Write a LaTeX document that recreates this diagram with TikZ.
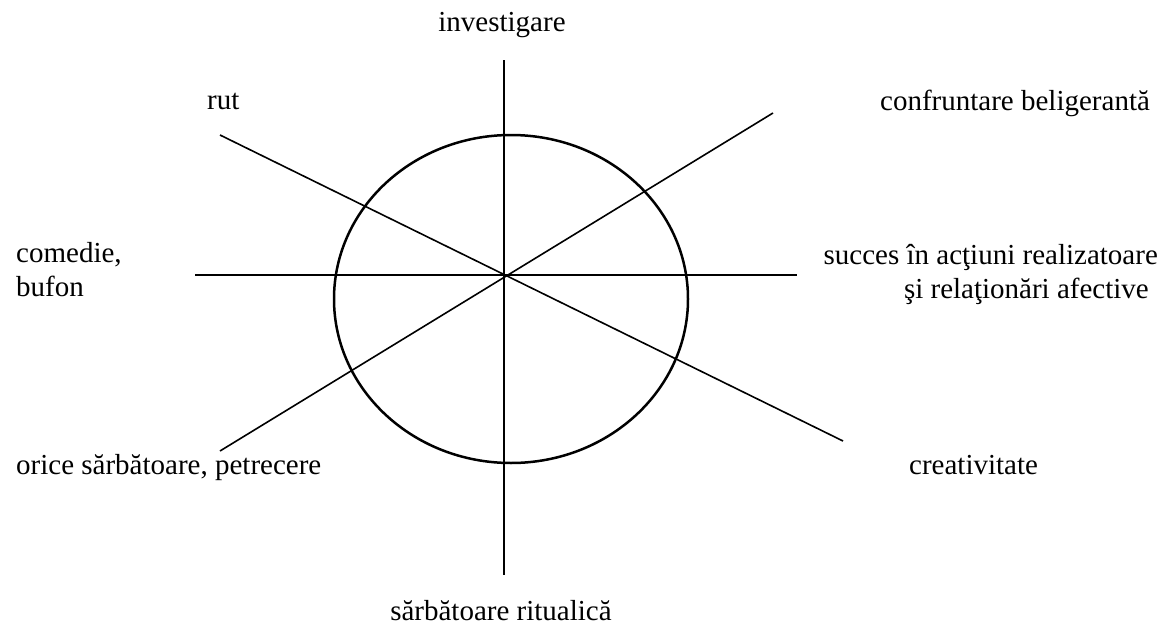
\documentclass[tikz,border=0pt]{standalone}
\usepackage{fontspec}
\setmainfont{Liberation Serif}
\usetikzlibrary{positioning}

\begin{document}
\begin{tikzpicture}[x=1pt,y=-1pt,
  font=\fontsize{29}{34}\selectfont,
  lab/.style={inner sep=0pt},
  ln/.style={line width=1.6pt},
  rim/.style={line width=2.5pt}]
\useasboundingbox (0,0) rectangle (1163,632);
\coordinate (o) at (505,275);
\coordinate (up) at (504,60);\coordinate (dn) at (504,575);
\coordinate (lt) at (195,275);\coordinate (rt) at (797,275);
\coordinate (ul) at (220,135);\coordinate (lr) at (843,441);
\coordinate (ur) at (773,113);\coordinate (ll) at (220,451);
\draw[rim] (511,299) ellipse [x radius=177,y radius=164];
\draw[ln](up)--(dn);\draw[ln](lt)--(rt);\draw[ln](ul)--(lr);\draw[ln](ll)--(ur);
\node[lab,anchor=base](inv) at (502,31){investigare};
\node[lab,anchor=base west](rut) at (207,109){rut};
\node[lab,anchor=base west](conf) at (880,110){confruntare beligerantă};
\node[lab,anchor=west,align=left](com) at (16,270){comedie,\\bufon};
\node[lab,anchor=east,align=right](succ) at (1158,274){succes în acţiuni realizatoare\\şi relaţionări afective\hspace*{9pt}};
\node[lab,anchor=base west](orice) at (16,474){orice sărbătoare, petrecere};
\node[lab,anchor=base west](creat) at (909,474){creativitate};
\node[lab,anchor=base](ritual) at (501,620){sărbătoare ritualică};
\end{tikzpicture}
\end{document}
